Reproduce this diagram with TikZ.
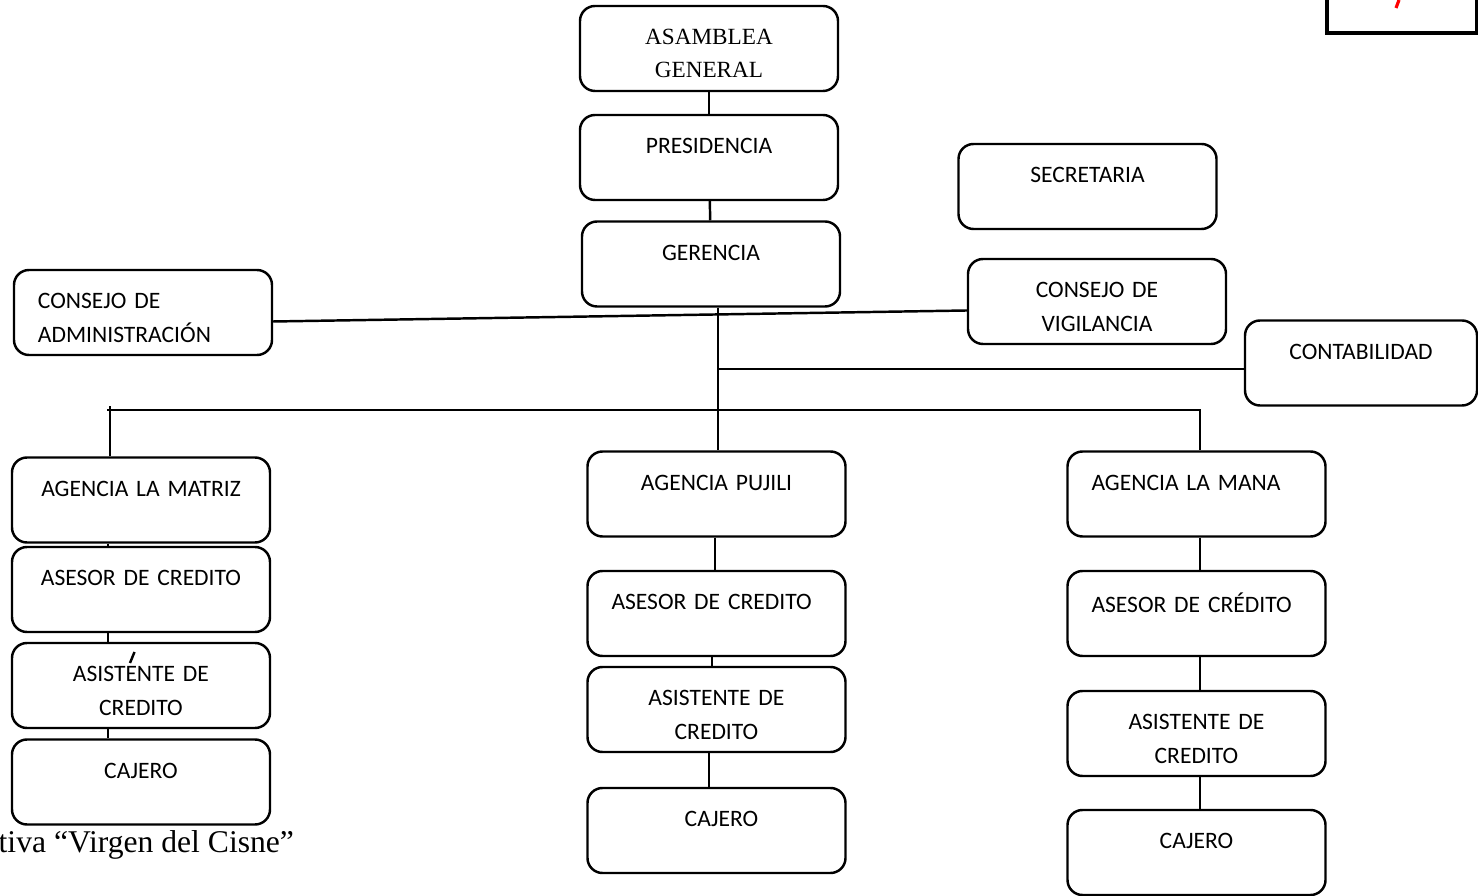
\documentclass[tikz,border=0pt]{standalone}
\usepackage{fontspec}
\setmainfont{Liberation Serif}
\newfontfamily\cali{Carlito}
\usetikzlibrary{calc}

\begin{document}
\begin{tikzpicture}

\tikzset{
    caja/.style={draw,rounded corners=0.15cm,line width=0.7pt,minimum height=0.85cm,
        text width=2.1cm,inner xsep=0.24cm,inner ysep=0pt,align=center,
        font=\cali\fontsize{6.7}{9.5}\selectfont},
    izq/.style={align=left},
    dos/.style={execute at begin node={\rule{0pt}{0.26cm}}},
    linea/.style={line width=0.7pt}}

\useasboundingbox (0,0) rectangle (14.78,-8.96);

% cabecera
\node[caja, dos, font=\fontsize{6.6}{9.4}\selectfont] (asamblea) at (7.09,-0.485) {ASAMBLEA\\GENERAL};
\node[caja] (presidencia) at (7.09,-1.575) {PRESIDENCIA\\[-0.21cm]\strut};
\node[caja] (gerencia) at (7.11,-2.64) {GERENCIA\\[-0.21cm]\strut};
\node[caja] (secretaria) at (10.875,-1.865) {SECRETARIA\\[-0.21cm]\strut};
\node[caja, dos, izq] (cadmin) at (1.43,-3.125) {CONSEJO DE\\ADMINISTRACIÓN};
\node[caja, dos] (cvigil) at (10.97,-3.015) {CONSEJO DE\\VIGILANCIA};
\node[caja, text width=1.84cm] (contab) at (13.61,-3.63) {CONTABILIDAD\\[-0.21cm]\strut};

% agencia la matriz
\node[caja] (matriz) at (1.41,-5.0) {AGENCIA LA MATRIZ\\[-0.21cm]\strut};
\node[caja] (asesorA) at (1.41,-5.895) {ASESOR DE CREDITO\\[-0.21cm]\strut};
\node[caja, dos] (asistA) at (1.41,-6.855) {ASISTENTE DE\\CREDITO};
\node[caja] (cajeroA) at (1.41,-7.82) {CAJERO\\[-0.21cm]\strut};

% agencia pujili
\node[caja] (pujili) at (7.165,-4.94) {AGENCIA PUJILI\\[-0.21cm]\strut};
\node[caja, izq] (asesorB) at (7.165,-6.135) {ASESOR DE CREDITO\\[-0.21cm]\strut};
\node[caja, dos] (asistB) at (7.165,-7.095) {ASISTENTE DE\\CREDITO};
\node[caja] (cajeroB) at (7.165,-8.305) {\hspace*{0.1cm}CAJERO\\[-0.21cm]\strut};

% agencia la mana
\node[caja, izq] (mana) at (11.965,-4.94) {AGENCIA LA MANA\\[-0.21cm]\strut};
\node[caja, izq] (asesorC) at (11.965,-6.135) {ASESOR DE CRÉDITO\\[-0.21cm]\strut};
\node[caja, dos] (asistC) at (11.965,-7.335) {ASISTENTE DE\\CREDITO};
\node[caja] (cajeroC) at (11.965,-8.525) {CAJERO\\[-0.21cm]\strut};

\coordinate (tronco) at (7.18,-4.10);
\coordinate (ramal) at (7.18,-3.69);
\coordinate (busL) at (1.10,-4.10);
\coordinate (busR) at (12.00,-4.10);
\coordinate (colA) at (1.08,0);

\draw[linea] (asamblea) -- (presidencia);
\draw[linea] (presidencia) -- (gerencia);
\draw[linea] (gerencia.south -| tronco) -- (tronco) -- (pujili.north -| tronco);
\draw[linea] (ramal) -- (ramal -| contab.west);
\draw[linea] ([yshift=-0.09cm]cadmin.east) -- ([yshift=-0.09cm]cvigil.west);
\draw[linea] (matriz.north -| busL) -- ([yshift=0.04cm]busL);
\draw[linea] ([xshift=-0.03cm]busL) -- (busR) -- (mana.north -| busR);

\draw[linea] (matriz.south -| colA) -- (asesorA.north -| colA);
\draw[linea] (asesorA.south -| colA) -- (asistA.north -| colA);
\draw[linea] (asistA.south -| colA) -- (cajeroA.north -| colA);
\draw[linea] (1.30,-6.63) -- (1.345,-6.52);

\draw[linea] ([xshift=-0.015cm]pujili.south) -- ([xshift=-0.015cm]asesorB.north);
\draw[linea] ([xshift=-0.045cm]asesorB.south) -- ([xshift=-0.045cm]asistB.north);
\draw[linea] ([xshift=-0.075cm]asistB.south) -- ([xshift=-0.075cm]cajeroB.north);

\draw[linea] (mana.south -| busR) -- (asesorC.north -| busR);
\draw[linea] (asesorC.south -| busR) -- (asistC.north -| busR);
\draw[linea] (asistC.south -| busR) -- (cajeroC.north -| busR);

% esquina
\draw[line width=0.9pt] (13.27,0.05) -- (13.27,-0.33) -- (14.77,-0.33) -- (14.77,0.05);
\draw[red, line width=0.9pt] (13.96,-0.08) -- (13.99,0.0);

\node[anchor=base west, inner sep=0pt, font=\fontsize{9}{10}\selectfont] (pie) at (-0.02,-8.53) {tiva “Virgen del Cisne”};

\end{tikzpicture}
\end{document}
